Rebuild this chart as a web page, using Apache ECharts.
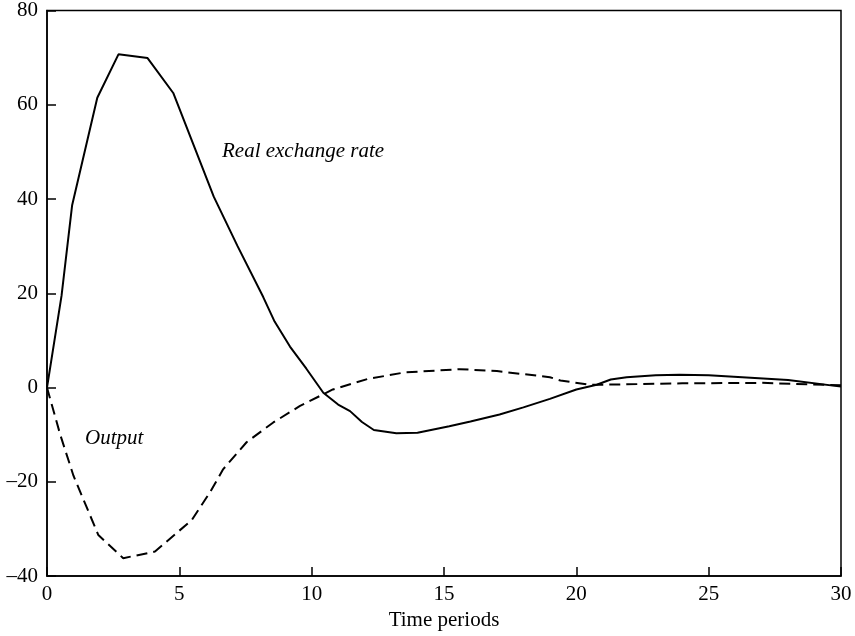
<!DOCTYPE html>
<html>
<head>
<meta charset="UTF-8">
<title>Real exchange rate and output</title>
<style>
body{margin:0;background:#fff;}
#picContainer{width:855px;height:636px;}
</style>
</head>
<body>
<div id="picContainer"></div>
<script src="https://cdn.jsdelivr.net/npm/echarts@6/dist/echarts.min.js"></script>
<script>
// real exchange rate (solid), [period, value]
var rateX = [0, 0.55, 0.95, 1.9, 2.7, 3.8, 4.77, 5.5, 6.3, 7.2, 8.17, 8.6, 9.18, 9.8, 10.44, 11, 11.45, 11.9, 12.35, 13.2, 14, 15.2, 16, 17.1, 18, 19, 20, 20.77, 21.3, 21.9, 23, 23.9, 25, 26.9, 28, 30];
var rateY = [0, 19.5, 38.7, 61.5, 70.7, 69.9, 62.5, 52, 40.5, 30, 19.2, 14, 8.7, 4, -1.1, -3.6, -5, -7.3, -9, -9.7, -9.6, -8.2, -7.2, -5.7, -4.2, -2.4, -0.4, 0.6, 1.7, 2.2, 2.6, 2.7, 2.6, 2.0, 1.6, 0.2];
// output (dashed)
var outX = [0, 0.5, 1, 1.94, 2.88, 4.08, 5.47, 6.16, 6.66, 7.54, 8.55, 9.56, 10.8, 12.1, 13.5, 15.6, 17, 19, 19.4, 20.5, 21, 24, 27, 30];
var outY = [0, -10, -18.7, -31.3, -36.2, -34.8, -28.1, -22.2, -17.3, -11.6, -7.4, -3.9, -0.4, 1.8, 3.2, 3.9, 3.5, 2.2, 1.5, 0.6, 0.6, 0.9, 1.0, 0.5];
var xTicks = [0, 5, 10, 15, 20, 25, 30];
var yTicks = [-40, -20, 0, 20, 40, 60, 80];

function pairs(xs, ys){
    var d = [];
    for (var i = 0; i < xs.length; i++) d.push([xs[i], ys[i]]);
    return d;
}

var font = '"Liberation Serif", "DejaVu Serif", serif';
var myChart = echarts.init(document.getElementById('picContainer'));
var option = {
    animation: false,
    grid: {
        left: 47, top: 8, right: 14, bottom: 58,
        show: true, borderColor: '#000', borderWidth: 1.5
    },
    xAxis: {
        type: 'value',
        min: xTicks[0], max: xTicks[xTicks.length - 1], interval: 5,
        name: 'Time periods', nameLocation: 'middle', nameGap: 33,
        nameTextStyle: {color: '#000', fontFamily: font, fontSize: 21},
        axisLine: {show: true, onZero: false, lineStyle: {color: '#000', width: 1.5}},
        axisTick: {show: true, inside: true, length: 9, lineStyle: {color: '#000', width: 1.5}},
        axisLabel: {color: '#000', fontFamily: font, fontSize: 21, margin: 8},
        splitLine: {show: false}
    },
    yAxis: {
        type: 'value',
        min: yTicks[0], max: yTicks[yTicks.length - 1], interval: 20,
        axisLine: {show: true, onZero: false, lineStyle: {color: '#000', width: 1.5}},
        axisTick: {show: true, inside: true, length: 9, lineStyle: {color: '#000', width: 1.5}},
        axisLabel: {
            color: '#000', fontFamily: font, fontSize: 21, margin: 9,
            formatter: function (v) { return String(v).replace('-', '\u2013'); }
        },
        splitLine: {show: false}
    },
    graphic: [
        {type: 'text', left: 222, top: 141, style: {text: 'Real exchange rate', fill: '#000', font: 'italic 21px ' + font}},
        {type: 'text', left: 85, top: 428, style: {text: 'Output', fill: '#000', font: 'italic 21px ' + font}}
    ],
    series: [
        {
            name: 'Real exchange rate', type: 'line', symbol: 'none',
            lineStyle: {color: '#000', width: 2},
            data: pairs(rateX, rateY)
        },
        {
            name: 'Output', type: 'line', symbol: 'none',
            lineStyle: {color: '#000', width: 2, type: [11, 6]},
            data: pairs(outX, outY)
        }
    ]
};
myChart.setOption(option);
</script>
</body>
</html>
